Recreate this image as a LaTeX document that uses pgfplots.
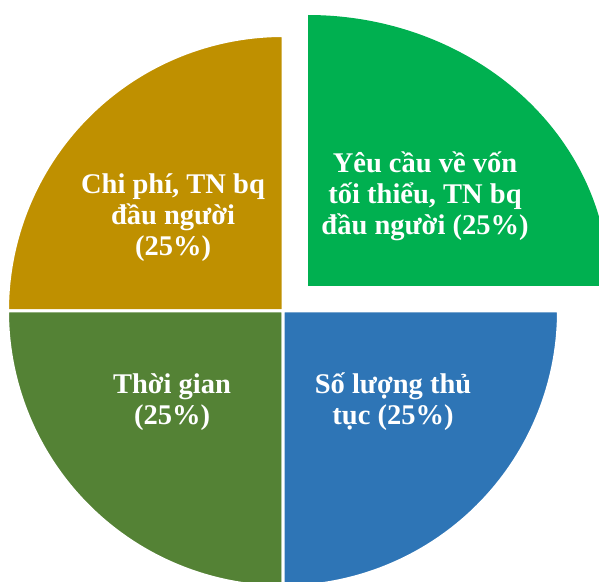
\documentclass[border=0pt]{standalone}
\usepackage{pgfplots}
\pgfplotsset{compat=1.18}
\usepackage{fontspec}
\setmainfont{Liberation Serif}
\definecolor{cgreen}{RGB}{0,176,80}
\definecolor{cgold}{RGB}{191,144,0}
\definecolor{cdkgreen}{RGB}{84,130,53}
\definecolor{cblue}{RGB}{46,117,182}

% slice: center x, center y, start %, end %, colour
\newcommand\slice[5]{%
  \fill[#5, draw=white, line width=3pt] (axis cs:#1,#2) -- ++({3.6*#3}:275.5pt)
    arc[start angle={3.6*#3}, end angle={3.6*#4}, radius=275.5pt] -- cycle;}

\begin{document}
\begin{tikzpicture}
\path[use as bounding box] (0,0) rectangle (599pt,581pt);
\begin{axis}[hide axis, scale only axis, width=599pt, height=581pt,
    xmin=0, xmax=599, ymin=0, ymax=581, clip=false]
  % shares (%), counter-clockwise from 0 deg: 25, 25, 25, 25
  % exploded slice (0 -> 25 %)
  \fill[cgreen] (axis cs:308,295) -- ++(0:301pt and 271pt)
    arc[start angle=0, end angle={3.6*25}, x radius=301pt, y radius=271pt] -- cycle;
  \slice{283}{270}{25}{50}{cgold}
  \slice{283}{270}{50}{75}{cdkgreen}
  \slice{283}{270}{75}{100}{cblue}

  \tikzset{lbl/.style={align=center, text=white, inner sep=0pt,
      font=\bfseries\fontsize{28.5}{31}\selectfont}}
  \node[lbl] at (axis cs:425,385) {Yêu cầu về vốn\\tối thiểu, TN bq\\đầu người (25\%)};
  \node[lbl] at (axis cs:173,363) {Chi phí, TN bq\\đầu người\\(25\%)};
  \node[lbl] at (axis cs:172,179) {Thời gian\\(25\%)};
  \node[lbl] at (axis cs:393,179) {Số lượng thủ\\tục (25\%)};
\end{axis}
\end{tikzpicture}
\end{document}
